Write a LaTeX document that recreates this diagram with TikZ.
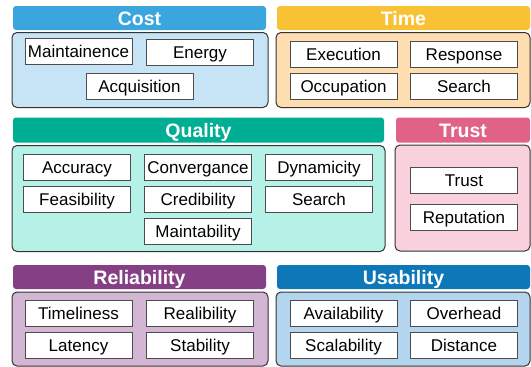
\documentclass[tikz,border=0pt]{standalone}
\usepackage{xcolor}
\usepackage{fontspec}
\setmainfont{Liberation Sans}
\usepackage{tikz}

\definecolor{costhead}{HTML}{3AA6DD}
\definecolor{costbody}{HTML}{C6E4F6}
\definecolor{timehead}{HTML}{F9C234}
\definecolor{timebody}{HTML}{FEDDB1}
\definecolor{qualhead}{HTML}{00AE94}
\definecolor{qualbody}{HTML}{B5F1E6}
\definecolor{trusthead}{HTML}{E06287}
\definecolor{trustbody}{HTML}{F8D1DC}
\definecolor{relhead}{HTML}{854085}
\definecolor{relbody}{HTML}{D3B6D3}
\definecolor{usehead}{HTML}{0E77B7}
\definecolor{usebody}{HTML}{B3D6EE}

\tikzset{
  header/.style={rounded corners=3pt, inner sep=0pt, outer sep=0pt, text=white,
    text height=16pt, text depth=2pt, font=\fontsize{19.5}{22}\selectfont\bfseries},
  panel/.style={draw=black!80, line width=1pt, rounded corners=5pt, inner sep=0pt, outer sep=0pt},
  item/.style={draw=black!70, fill=white, line width=0.8pt, inner sep=0pt, outer sep=0pt,
    minimum width=107pt, minimum height=26pt, text height=14pt, text depth=2pt,
    font=\fontsize{17}{20}\selectfont}
}

\begin{document}
\begin{tikzpicture}[x=1pt, y=-1pt]
             \useasboundingbox (0,0) rectangle (531,367);

             % cost
             \node[header, fill=costhead, minimum width=253pt, minimum height=24pt] (cost) at (139.5, 18) {Cost};
             \node[panel, fill=costbody, minimum width=256pt, minimum height=75pt] (costpanel) at (140, 70) {};
             \node[item] (maint) at (78.5, 51.5) {Maintainence};
             \node[item] (energy) at (200, 52) {Energy};
             \node[item] (acq) at (139.5, 86) {Acquisition};

             % time
             \node[header, fill=timehead, minimum width=253pt, minimum height=24pt] (time) at (403.5, 18) {Time};
             \node[panel, fill=timebody, minimum width=254pt, minimum height=75pt] (timepanel) at (403, 70) {};
             \node[item] (exec) at (343.5, 54.5) {Execution};
             \node[item] (resp) at (464, 54.5) {Response};
             \node[item] (occ) at (343.5, 86.5) {Occupation};
             \node[item] (tsearch) at (464, 86.5) {Search};

             % quality
             \node[header, fill=qualhead, minimum width=371pt, minimum height=25pt] (qual) at (198.5, 130) {Quality};
             \node[panel, fill=qualbody, minimum width=373pt, minimum height=106pt] (qualpanel) at (198.5, 198.5) {};
             \node[item] (acc) at (77, 167.5) {Accuracy};
             \node[item] (conv) at (198, 167.5) {Convergance};
             \node[item] (dyn) at (319, 167.5) {Dynamicity};
             \node[item] (feas) at (77, 199) {Feasibility};
             \node[item] (cred) at (198, 199) {Credibility};
             \node[item] (qsearch) at (319, 199) {Search};
             \node[item] (mainta) at (198, 231) {Maintability};

             % trust
             \node[header, fill=trusthead, minimum width=134pt, minimum height=25pt] (trust) at (463, 130) {Trust};
             \node[panel, fill=trustbody, minimum width=135pt, minimum height=106pt] (trustpanel) at (462.5, 198) {};
             \node[item] (tr) at (464, 180) {Trust};
             \node[item] (rep) at (464, 217.5) {Reputation};

             % reliability
             \node[header, fill=relhead, minimum width=253pt, minimum height=24pt] (rel) at (139.5, 277) {Reliability};
             \node[panel, fill=relbody, minimum width=256pt, minimum height=74pt] (relpanel) at (140, 329) {};
             \node[item] (timel) at (78.5, 313) {Timeliness};
             \node[item] (realib) at (200, 313) {Realibility};
             \node[item] (lat) at (78.5, 345) {Latency};
             \node[item] (stab) at (200, 345) {Stability};

             % usability
             \node[header, fill=usehead, minimum width=253pt, minimum height=24pt] (use) at (403.5, 277) {Usability};
             \node[panel, fill=usebody, minimum width=254pt, minimum height=74pt] (usepanel) at (403, 329) {};
             \node[item] (avail) at (343.5, 313) {Availability};
             \node[item] (over) at (464, 313) {Overhead};
             \node[item] (scal) at (343.5, 345) {Scalability};
             \node[item] (dist) at (464, 345) {Distance};
\end{tikzpicture}
\end{document}
